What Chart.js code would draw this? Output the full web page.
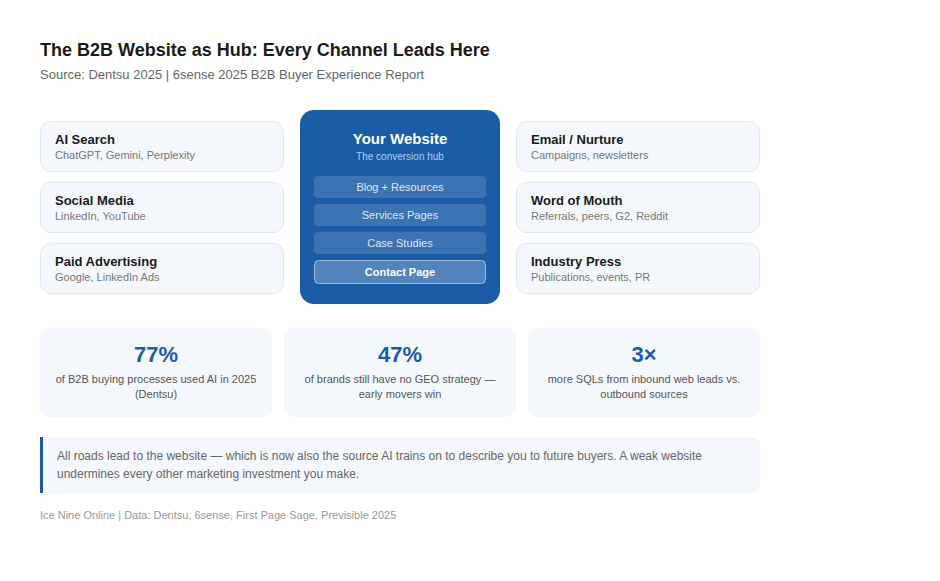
<!DOCTYPE html>
<html>
<head>
<meta charset="utf-8">
<title>The B2B Website as Hub</title>
<script src="https://cdn.jsdelivr.net/npm/chart.js@4"></script>
<style>
  html, body { margin: 0; padding: 0; background: #fff; }
  canvas { display: block; }
</style>
</head>
<body>
<canvas id="hub-chart" width="940" height="581"></canvas>
<script>
const chartTitle = "The B2B Website as Hub: Every Channel Leads Here";
const chartSubtitle = "Source: Dentsu 2025 | 6sense 2025 B2B Buyer Experience Report";

const leftChannels = ["AI Search", "Social Media", "Paid Advertising"];
const leftDetails = ["ChatGPT, Gemini, Perplexity", "LinkedIn, YouTube", "Google, LinkedIn Ads"];
const rightChannels = ["Email / Nurture", "Word of Mouth", "Industry Press"];
const rightDetails = ["Campaigns, newsletters", "Referrals, peers, G2, Reddit", "Publications, events, PR"];

const hubName = "Your Website";
const hubTagline = "The conversion hub";
const hubPages = ["Blog + Resources", "Services Pages", "Case Studies", "Contact Page"];

const statValues = [77, 47, 3];
const statUnits = ["%", "%", "×"];
const statLines = [
  ["of B2B buying processes used AI in 2025", "(Dentsu)"],
  ["of brands still have no GEO strategy —", "early movers win"],
  ["more SQLs from inbound web leads vs.", "outbound sources"],
];

const noteLines = [
  "All roads lead to the website — which is now also the source AI trains on to describe you to future buyers. A weak website",
  "undermines every other marketing investment you make.",
];
const footerText = "Ice Nine Online | Data: Dentsu, 6sense, First Page Sage, Previsible 2025";

const FONT = '"Liberation Sans", Arial, sans-serif';
const BLUE = "#1a5ca6";
const CARD = "#f4f8fd";

function box(ctx, x, y, w, h, r, fill, stroke) {
  ctx.beginPath();
  ctx.roundRect(x, y, w, h, r);
  ctx.fillStyle = fill;
  ctx.fill();
  if (stroke) {
    ctx.strokeStyle = stroke;
    ctx.lineWidth = 1;
    ctx.stroke();
  }
}

function label(ctx, text, x, y, font, color, align) {
  ctx.font = font + " " + FONT;
  ctx.fontKerning = "normal";
  ctx.fillStyle = color;
  ctx.textAlign = align || "left";
  ctx.textBaseline = "alphabetic";
  ctx.fillText(text, x, y);
}

function channelColumn(ctx, x, names, details) {
  names.forEach((name, i) => {
    const y = 121 + i * 61;
    box(ctx, x + 0.5, y + 0.5, 243, 50, 10, CARD, "#dde9f6");
    label(ctx, name, x + 15, y + 23, "bold 13px", "#1a1a1a");
    label(ctx, details[i], x + 15, y + 38, "11px", "#777");
  });
}

const backdrop = {
  id: "backdrop",
  beforeDraw(chart) {
    const ctx = chart.ctx;
    ctx.save();
    ctx.fillStyle = "#fff";
    ctx.fillRect(0, 0, chart.width, chart.height);
    ctx.restore();
  },
};

const hubDiagram = {
  id: "hubDiagram",
  afterDraw(chart) {
    const ctx = chart.ctx;
    ctx.save();

    channelColumn(ctx, 40, leftChannels, leftDetails);
    channelColumn(ctx, 516, rightChannels, rightDetails);

    // hub in the middle
    box(ctx, 300, 110, 200, 194, 14, BLUE);
    label(ctx, hubName, 400, 144, "bold 15px", "#fff", "center");
    label(ctx, hubTagline, 400, 160, "10px", "#a8d0f5", "center");
    hubPages.forEach((page, i) => {
      const y = 176 + i * 28;
      if (i === hubPages.length - 1) {
        box(ctx, 314.5, y + 0.5, 171, 23, 4, "rgba(255,255,255,0.25)", "rgba(255,255,255,0.5)");
        label(ctx, page, 400, y + 16, "bold 11px", "#fff", "center");
      } else {
        box(ctx, 314, y, 172, 22, 4, "rgba(255,255,255,0.15)");
        label(ctx, page, 400, y + 15, "11px", "rgba(255,255,255,0.85)", "center");
      }
    });

    // stat cards take their numbers from the dataset
    chart.data.datasets[0].data.forEach((value, i) => {
      const x = 40 + i * 244;
      box(ctx, x, 328, 232, 89, 10, CARD);
      label(ctx, value + statUnits[i], x + 116, 362, "bold 22px", BLUE, "center");
      statLines[i].forEach((line, j) => {
        label(ctx, line, x + 116, 383 + j * 15, "11px", "#555", "center");
      });
    });

    // note
    box(ctx, 40, 437, 720, 56, [0, 8, 8, 0], CARD);
    ctx.fillStyle = BLUE;
    ctx.fillRect(40, 437, 3, 56);
    noteLines.forEach((line, i) => {
      label(ctx, line, 57, 460 + i * 18, "12px", "#666");
    });

    label(ctx, footerText, 40, 519, "11px", "#999");
    ctx.restore();
  },
};

const canvas = document.getElementById("hub-chart");
// opaque context so text is drawn the same way as page text
canvas.getContext("2d", { alpha: false });

new Chart(canvas, {
  type: "bar",
  data: {
    labels: statLines.map((lines) => lines[0]),
    datasets: [{ data: statValues, hidden: true }],
  },
  options: {
    responsive: false,
    animation: false,
    devicePixelRatio: 1,
    layout: { padding: { top: 40, left: 40, right: 40 } },
    scales: { x: { display: false }, y: { display: false } },
    plugins: {
      legend: { display: false },
      tooltip: { enabled: false },
      title: {
        display: true,
        text: chartTitle,
        align: "start",
        color: "#1a1a1a",
        font: { family: FONT, size: 18, weight: "bold", lineHeight: 1.2 },
        padding: { top: 0, bottom: 6 },
      },
      subtitle: {
        display: true,
        text: chartSubtitle,
        align: "start",
        color: "#666",
        font: { family: FONT, size: 13, weight: "normal", lineHeight: 1.2 },
        padding: { top: 0, bottom: 0 },
      },
    },
  },
  plugins: [backdrop, hubDiagram],
});
</script>
</body>
</html>
